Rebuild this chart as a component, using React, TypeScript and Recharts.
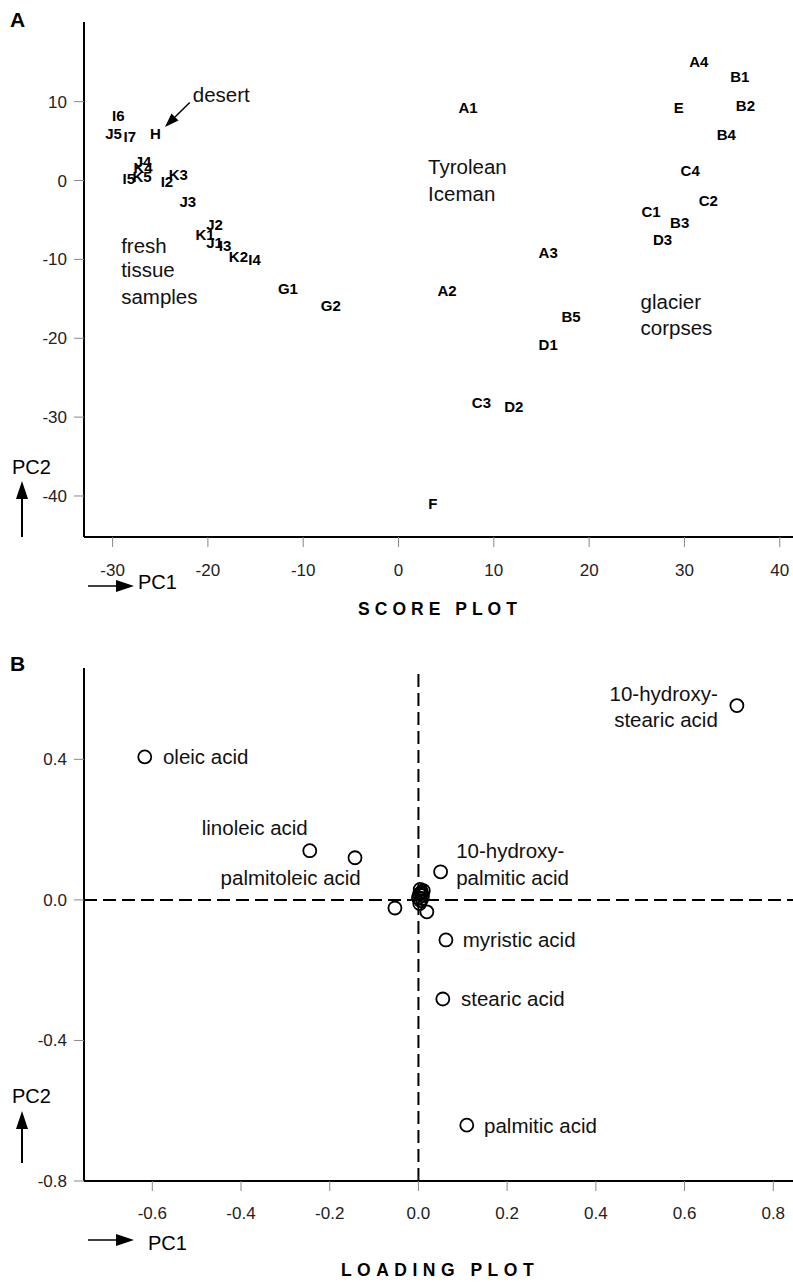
import { ScatterChart, Scatter, XAxis, YAxis, ReferenceLine } from 'recharts'

const FONT = "'Liberation Sans', Arial, Helvetica, sans-serif"

// ---- panel A: score plot ----
const scoreLabels = [
  'A1', 'A2', 'A3', 'A4', 'B1', 'B2', 'B3', 'B4', 'B5', 'C1', 'C2', 'C3', 'C4',
  'D1', 'D2', 'D3', 'E', 'F', 'G1', 'G2', 'H', 'I2', 'I3', 'I4', 'I5', 'I6', 'I7',
  'J1', 'J2', 'J3', 'J4', 'J5', 'K1', 'K2', 'K3', 'K4', 'K5',
]
const scorePC1 = [
  7.3, 5.1, 15.7, 31.5, 35.8, 36.4, 29.5, 34.4, 18.1, 26.5, 32.5, 8.7, 30.6,
  15.7, 12.1, 27.7, 29.4, 3.6, -11.6, -7.1, -25.5, -24.3, -18.2, -15.1, -28.3, -29.4, -28.2,
  -19.3, -19.3, -22.1, -26.8, -29.9, -20.3, -16.8, -23.1, -26.8, -26.9,
]
const scorePC2 = [
  9.2, -13.9, -9.1, 15.1, 13.2, 9.5, -5.3, 5.8, -17.3, -3.9, -2.5, -28.2, 1.3,
  -20.8, -28.7, -7.5, 9.3, -41.0, -13.7, -15.8, 5.9, -0.1, -8.3, -10.0, 0.3, 8.2, 5.6,
  -7.8, -5.6, -2.7, 2.4, 6.0, -6.8, -9.6, 0.8, 1.6, 0.5,
]
const scoreXTicks = [-30, -20, -10, 0, 10, 20, 30, 40]
const scoreYTicks = [-40, -30, -20, -10, 0, 10]

// group captions, anchored in data units
const scoreNotes = [
  { text: 'desert', x: -18.6, y: 10.9, anchor: 'middle' },
  { text: 'Tyrolean', x: 3.1, y: 1.8, anchor: 'start' },
  { text: 'Iceman', x: 3.1, y: -1.6, anchor: 'start' },
  { text: 'fresh', x: -29.1, y: -8.2, anchor: 'start' },
  { text: 'tissue', x: -29.1, y: -11.3, anchor: 'start' },
  { text: 'samples', x: -29.1, y: -14.7, anchor: 'start' },
  { text: 'glacier', x: 25.4, y: -15.3, anchor: 'start' },
  { text: 'corpses', x: 25.4, y: -18.6, anchor: 'start' },
]
const desertArrow = [
  { x: -21.9, y: 9.9 },
  { x: -24.5, y: 6.8 },
]

// ---- panel B: loading plot ----
const loadingNames = [
  '10-hydroxystearic acid', 'oleic acid', 'linoleic acid', 'palmitoleic acid',
  '10-hydroxypalmitic acid', 'myristic acid', 'stearic acid', 'palmitic acid',
  '', '', '', '', '', '', '', '', '', '', '', '',
]
const loadingPC1 = [
  0.718, -0.617, -0.245, -0.143, 0.05, 0.062, 0.055, 0.109,
  0.004, 0.007, 0.002, 0.009, 0.0, 0.005, 0.003, 0.011, -0.053, 0.019, 0.006, 0.008,
]
const loadingPC2 = [
  0.553, 0.407, 0.14, 0.12, 0.08, -0.114, -0.282, -0.641,
  0.03, 0.022, 0.016, 0.012, 0.006, -0.002, -0.01, 0.026, -0.023, -0.034, 0.019, 0.004,
]
const loadingXTicks = [-0.6, -0.4, -0.2, 0, 0.2, 0.4, 0.6, 0.8]
const loadingYTicks = [-0.8, -0.4, 0, 0.4]

const loadingNotes = [
  { text: '10-hydroxy-', x: 0.675, y: 0.587, anchor: 'end' },
  { text: 'stearic acid', x: 0.675, y: 0.513, anchor: 'end' },
  { text: 'oleic acid', x: -0.576, y: 0.407, anchor: 'start' },
  { text: 'linoleic acid', x: -0.369, y: 0.205, anchor: 'middle' },
  { text: 'palmitoleic acid', x: -0.288, y: 0.063, anchor: 'middle' },
  { text: '10-hydroxy-', x: 0.085, y: 0.14, anchor: 'start' },
  { text: 'palmitic acid', x: 0.085, y: 0.065, anchor: 'start' },
  { text: 'myristic acid', x: 0.1, y: -0.114, anchor: 'start' },
  { text: 'stearic acid', x: 0.096, y: -0.282, anchor: 'start' },
  { text: 'palmitic acid', x: 0.148, y: -0.641, anchor: 'start' },
]

const scoreData = scoreLabels.map((name, i) => ({ name, x: scorePC1[i], y: scorePC2[i] }))
const loadingData = loadingNames.map((name, i) => ({ name, x: loadingPC1[i], y: loadingPC2[i] }))

const tickStyle = { fill: '#222', fontSize: 17, fontFamily: FONT }
const axisLine = { stroke: '#000', strokeWidth: 2 }
const tickLine = { stroke: '#888', strokeWidth: 1 }

function SampleLabel(props: any) {
  const { cx, cy, payload } = props
  return (
    <text x={cx} y={cy} textAnchor="middle" dominantBaseline="central"
      style={{ fontSize: 15, fontWeight: 700, fontFamily: FONT, fill: '#000' }}>
      {payload.name}
    </text>
  )
}

function NoteText(props: any) {
  const { cx, cy, payload } = props
  return (
    <text x={cx} y={cy} textAnchor={payload.anchor} dominantBaseline="central"
      style={{ fontSize: 20.5, fontFamily: FONT, fill: '#111' }}>
      {payload.text}
    </text>
  )
}

function OpenCircle(props: any) {
  const { cx, cy } = props
  return <circle cx={cx} cy={cy} r={6.5} fill="none" stroke="#000" strokeWidth={1.8} />
}

function ArrowSegment(props: any) {
  const { x1, y1, x2, y2 } = props
  const a = Math.atan2(y2 - y1, x2 - x1)
  const len = 14
  const w = 5
  const bx = x2 - len * Math.cos(a)
  const by = y2 - len * Math.sin(a)
  const px = -Math.sin(a) * w
  const py = Math.cos(a) * w
  return (
    <g>
      <line x1={x1} y1={y1} x2={bx} y2={by} stroke="#000" strokeWidth={1.5} />
      <polygon points={`${x2},${y2} ${bx + px},${by + py} ${bx - px},${by - py}`} fill="#000" />
    </g>
  )
}

const emptyTick = () => <g />

function ScorePlot() {
  return (
    <ScatterChart width={800} height={600} margin={{ top: 22, right: 5, bottom: 3, left: 24 }}>
      <XAxis type="number" dataKey="x" domain={[-33.0, 41.6]} ticks={scoreXTicks}
        height={60} tick={tickStyle} tickSize={10} tickMargin={17}
        axisLine={axisLine} tickLine={tickLine} />
      <XAxis xAxisId="top" orientation="top" type="number" dataKey="x" domain={[-33.0, 41.6]}
        ticks={scoreXTicks} height={0} tick={emptyTick} tickSize={10}
        axisLine={axisLine} tickLine={tickLine} />
      <YAxis type="number" dataKey="y" domain={[-45.2, 20.1]} ticks={scoreYTicks}
        width={60} tick={tickStyle} tickSize={10} tickMargin={7}
        axisLine={axisLine} tickLine={tickLine} />
      <ReferenceLine segment={desertArrow} shape={ArrowSegment} ifOverflow="visible" />
      <Scatter data={scoreNotes} shape={NoteText} isAnimationActive={false} />
      <Scatter data={scoreData} shape={SampleLabel} isAnimationActive={false} />
    </ScatterChart>
  )
}

function LoadingPlot() {
  return (
    <ScatterChart width={800} height={640} margin={{ top: 28, right: 5, bottom: 39, left: 24 }}>
      <XAxis type="number" dataKey="x" domain={[-0.754, 0.849]} ticks={loadingXTicks}
        height={60} tick={tickStyle} tickSize={10} tickMargin={16}
        tickFormatter={(v: number) => v.toFixed(1)}
        axisLine={axisLine} tickLine={tickLine} />
      <XAxis xAxisId="top" orientation="top" type="number" dataKey="x" domain={[-0.754, 0.849]}
        ticks={loadingXTicks} height={0} tick={emptyTick} tickSize={10}
        axisLine={axisLine} tickLine={tickLine} />
      <YAxis type="number" dataKey="y" domain={[-0.8, 0.66]} ticks={loadingYTicks}
        width={60} tick={tickStyle} tickSize={10} tickMargin={7}
        tickFormatter={(v: number) => v.toFixed(1)}
        axisLine={axisLine} tickLine={tickLine} />
      <ReferenceLine x={0} stroke="#000" strokeWidth={2} strokeDasharray="13 6" />
      <ReferenceLine y={0} stroke="#000" strokeWidth={2} strokeDasharray="13 6" />
      <Scatter data={loadingData} shape={OpenCircle} isAnimationActive={false} />
      <Scatter data={loadingNotes} shape={NoteText} isAnimationActive={false} />
    </ScatterChart>
  )
}

function UpArrow({ x, top, bottom }: { x: number; top: number; bottom: number }) {
  return (
    <g>
      <line x1={x} y1={bottom} x2={x} y2={top + 16} stroke="#000" strokeWidth={2} />
      <polygon points={`${x},${top} ${x - 6},${top + 18} ${x + 6},${top + 18}`} fill="#000" />
    </g>
  )
}

function RightArrow({ y, left, right }: { y: number; left: number; right: number }) {
  return (
    <g>
      <line x1={left} y1={y} x2={right - 16} y2={y} stroke="#000" strokeWidth={1.5} />
      <polygon points={`${right},${y} ${right - 18},${y - 6} ${right - 18},${y + 6}`} fill="#000" />
    </g>
  )
}

export default function App() {
  return (
    <div style={{ position: 'absolute', left: 0, top: 0, width: 793, height: 1282, overflow: 'hidden', background: '#fff' }}>
      <div style={{ position: 'absolute', left: 0, top: 0 }}>
        <ScorePlot />
      </div>
      <div style={{ position: 'absolute', left: 0, top: 640 }}>
        <LoadingPlot />
      </div>
      <svg width={793} height={1282} style={{ position: 'absolute', left: 0, top: 0, pointerEvents: 'none' }}>
        <g style={{ fontFamily: FONT }}>
          <text x={10} y={19} dominantBaseline="central" style={{ fontSize: 21, fontWeight: 700 }}>A</text>
          <text x={10} y={663} dominantBaseline="central" style={{ fontSize: 21, fontWeight: 700 }}>B</text>

          <text x={12} y={467} dominantBaseline="central" style={{ fontSize: 20 }}>PC2</text>
          <UpArrow x={22} top={481} bottom={537} />
          <RightArrow y={586} left={88} right={134} />
          <text x={138} y={582} dominantBaseline="central" style={{ fontSize: 20 }}>PC1</text>
          <text x={440} y={609} textAnchor="middle" dominantBaseline="central"
            style={{ fontSize: 17.5, fontWeight: 700, letterSpacing: 5 }}>SCORE PLOT</text>

          <text x={12} y={1096} dominantBaseline="central" style={{ fontSize: 20 }}>PC2</text>
          <UpArrow x={22} top={1111} bottom={1163} />
          <RightArrow y={1240} left={88} right={134} />
          <text x={148} y={1243} dominantBaseline="central" style={{ fontSize: 20 }}>PC1</text>
          <text x={440} y={1270} textAnchor="middle" dominantBaseline="central"
            style={{ fontSize: 17.5, fontWeight: 700, letterSpacing: 5.5 }}>LOADING PLOT</text>
        </g>
      </svg>
    </div>
  )
}
